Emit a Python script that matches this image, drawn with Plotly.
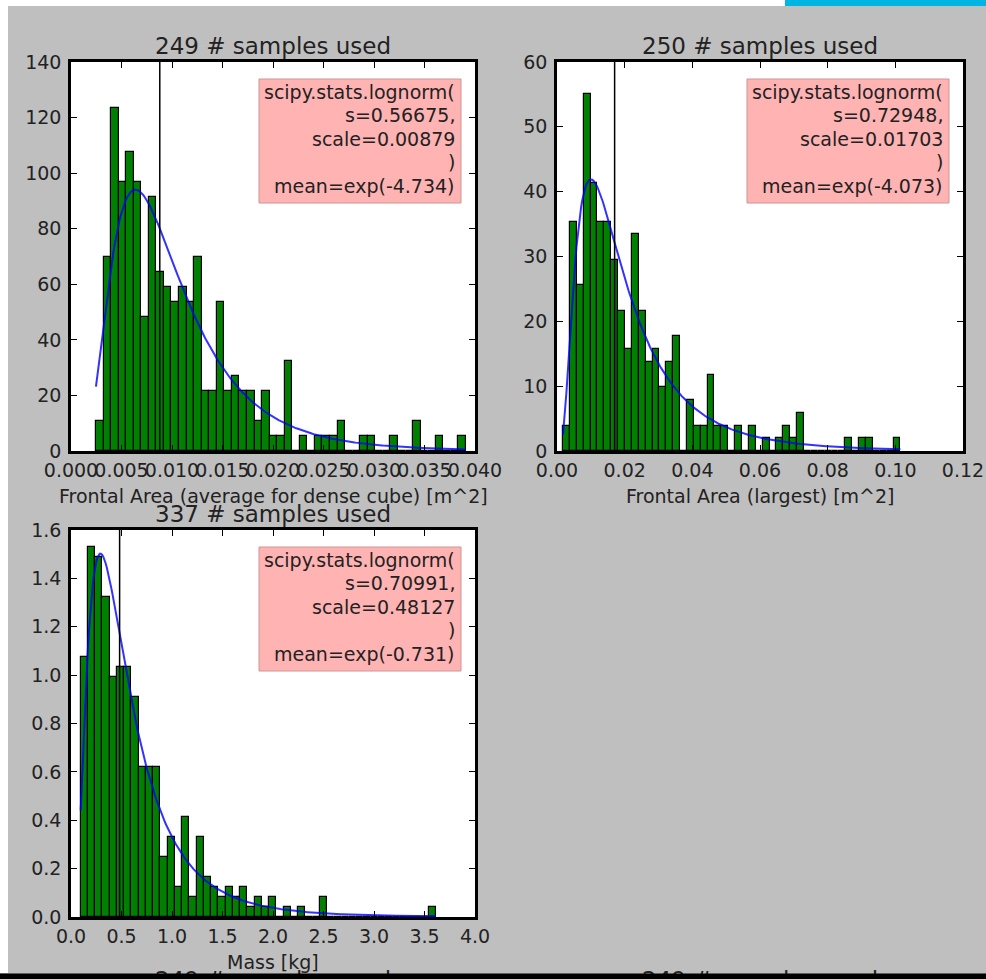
import numpy as np
import plotly.graph_objects as go

# ---------------- data ----------------
sample_counts = [249, 250, 337]
x_labels = ["Frontal Area (average for dense cube) [m^2]",
            "Frontal Area (largest) [m^2]",
            "Mass [kg]"]
fit_s = [0.56675, 0.72948, 0.70991]
fit_scale = [0.00879, 0.01703, 0.48127]
fit_mean_log = ["-4.734", "-4.073", "-0.731"]

# histogram bins (49 bins each), counts per bin
area_avg_range = [0.00247, 0.0391]
area_avg_counts = [2, 13, 23, 18, 20, 18, 9, 17, 12, 11, 10, 11, 10,
                   13, 4, 4, 10, 4, 5, 4, 4, 2, 4, 1, 1, 6,
                   0, 1, 0, 1, 1, 1, 2, 0, 0, 1, 1, 0, 0, 1, 0, 0, 2, 0, 0, 1, 0, 0, 1]

area_large_range = [0.00177, 0.1015]
area_large_counts = [2, 18, 13, 28, 21, 18, 18, 15, 11, 8, 17, 11, 7, 8, 5, 7, 9,
                     0, 4, 2, 2, 6, 2, 2, 0, 2, 0, 2, 0, 1, 0, 1, 2, 1, 3,
                     0, 0, 0, 0, 0, 0, 1, 0, 1, 1, 0, 0, 0, 1]

mass_range = [0.0957, 3.614]
mass_counts = [26, 37, 36, 32, 24, 25, 25, 22, 15, 15, 15,
               6, 8, 3, 10, 2, 8, 4, 3, 2, 3, 2, 3, 1, 2, 1, 2, 0, 1, 0, 1, 0, 0, 2,
               0, 0, 0, 0, 0, 0, 0, 0, 0, 0, 0, 0, 0, 0, 1]

# axis ticks
x_ticks = [[0.000, 0.005, 0.010, 0.015, 0.020, 0.025, 0.030, 0.035, 0.040],
           [0.00, 0.02, 0.04, 0.06, 0.08, 0.10, 0.12],
           [0.0, 0.5, 1.0, 1.5, 2.0, 2.5, 3.0, 3.5, 4.0]]
y_ticks = [[0, 20, 40, 60, 80, 100, 120, 140],
           [0, 10, 20, 30, 40, 50, 60],
           [0.0, 0.2, 0.4, 0.6, 0.8, 1.0, 1.2, 1.4, 1.6]]
x_fmt = [".3f", ".2f", ".1f"]
y_fmt = ["d", "d", ".1f"]

ranges = [area_avg_range, area_large_range, mass_range]
counts = [area_avg_counts, area_large_counts, mass_counts]

# ---------------- layout helpers ----------------
W, H = 986, 979
def px(x):
    return x / W
def py(y):
    return 1 - y / H

# axes boxes in pixels: (left, right, top, bottom)
boxes = [(71, 475, 62, 451), (557, 963, 62, 451), (71, 475, 530, 917)]
TXT = "#222222"
FONT = "DejaVu Sans"

fig = go.Figure()
annotations = []
shapes = []

for i in range(3):
    suffix = "" if i == 0 else str(i + 1)
    xa = "x" + suffix
    ya = "y" + suffix
    lo, hi = ranges[i]
    c = np.array(counts[i], dtype=float)
    nb = len(c)
    width = (hi - lo) / nb
    edges = lo + width * np.arange(nb + 1)
    centers = 0.5 * (edges[:-1] + edges[1:])
    density = c / (sample_counts[i] * width)

    fig.add_trace(go.Bar(x=centers, y=density, width=width, xaxis=xa, yaxis=ya,
                         marker=dict(color="#008000", line=dict(color="black", width=1.2)),
                         showlegend=False, hoverinfo="skip"))

    # fitted lognormal pdf with the parameters printed in the chart
    s = fit_s[i]
    sc = fit_scale[i]
    xs = np.linspace(lo, hi, 300)
    pdf = np.exp(-(np.log(xs / sc)) ** 2 / (2 * s * s)) / (xs * s * np.sqrt(2 * np.pi))
    fig.add_trace(go.Scatter(x=xs, y=pdf, mode="lines", xaxis=xa, yaxis=ya,
                             line=dict(color="rgba(0,0,255,0.8)", width=2),
                             showlegend=False, hoverinfo="skip"))

    # vertical line at the fitted scale (median)
    shapes.append(dict(type="line", xref=xa, yref=ya + " domain", x0=sc, x1=sc, y0=0, y1=1,
                       line=dict(color="black", width=1.5), layer="above"))

    l, r, t, b = boxes[i]
    axis_common = dict(showline=True, linecolor="black", linewidth=2.5, mirror="ticks",
                       ticks="inside", ticklen=6, tickwidth=1, tickcolor="black",
                       showgrid=False, zeroline=False, automargin=False,
                       tickfont=dict(family=FONT, size=19, color=TXT))
    fig.layout["xaxis" + suffix] = dict(domain=[px(l), px(r)], anchor=ya,
                                        range=[x_ticks[i][0], x_ticks[i][-1]],
                                        tickvals=x_ticks[i], tickformat=x_fmt[i], tickangle=0,
                                        ticklabelstandoff=0, **axis_common)
    fig.layout["yaxis" + suffix] = dict(domain=[py(b), py(t)], anchor=xa,
                                        range=[y_ticks[i][0], y_ticks[i][-1]],
                                        tickvals=y_ticks[i], tickformat=y_fmt[i],
                                        ticklabelstandoff=3, **axis_common)

    cx = 0.5 * (l + r)
    # title
    annotations.append(dict(text=f"{sample_counts[i]} # samples used", x=px(cx), y=py(t - 16),
                            xref="paper", yref="paper", xanchor="center", yanchor="middle",
                            showarrow=False, font=dict(family=FONT, size=23, color=TXT)))
    # x label
    annotations.append(dict(text=x_labels[i], x=px(cx), y=py(b + 45),
                            xref="paper", yref="paper", xanchor="center", yanchor="middle",
                            showarrow=False, font=dict(family=FONT, size=19, color=TXT)))

    # fit info box
    bx0, bx1 = r - 216, r - 14
    by0, by1 = t + 17, t + 141
    shapes.append(dict(type="rect", xref="paper", yref="paper",
                       x0=px(bx0), x1=px(bx1), y0=py(by1), y1=py(by0),
                       fillcolor="#FFB3B3", line=dict(color="rgb(205,150,150)", width=1),
                       layer="above"))
    lines = ["scipy.stats.lognorm(", f"s={s:.5f},", f"scale={sc:.5f}", ")",
             f"mean=exp({fit_mean_log[i]})"]
    for k, txt in enumerate(lines):
        annotations.append(dict(text=txt, x=px(bx1 - 4), y=py(t + 30 + 23.4 * k),
                                xref="paper", yref="paper", xanchor="right", yanchor="middle",
                                showarrow=False, font=dict(family=FONT, size=19, color=TXT)))

# titles of the next row, cut off by the bottom edge
for cx in (273, 760):
    annotations.append(dict(text=f"{sample_counts[0]} # samples used", x=px(cx), y=py(980),
                            xref="paper", yref="paper", xanchor="center", yanchor="middle",
                            showarrow=False, font=dict(family=FONT, size=23, color=TXT)))
# black strip at the bottom (drawn above the cut titles)
annotations.append(dict(text=" ", x=px(-5), y=py(973), xref="paper", yref="paper", xanchor="left",
                        yanchor="top", width=1000, height=14, bgcolor="black", borderpad=0,
                        showarrow=False, font=dict(size=4)))

# page decorations: white strips and cyan corner
shapes.append(dict(type="rect", xref="paper", yref="paper", x0=0, x1=px(785), y0=py(6), y1=1,
                   fillcolor="white", line=dict(width=0), layer="below"))
shapes.append(dict(type="rect", xref="paper", yref="paper", x0=px(785), x1=1, y0=py(6), y1=1,
                   fillcolor="#00B5E2", line=dict(width=0), layer="below"))
shapes.append(dict(type="rect", xref="paper", yref="paper", x0=0, x1=px(8), y0=py(973), y1=1,
                   fillcolor="white", line=dict(width=0), layer="below"))

fig.update_layout(width=W, height=H, margin=dict(l=0, r=0, t=0, b=0, autoexpand=False),
                  paper_bgcolor="#BFBFBF", plot_bgcolor="white",
                  bargap=0, barmode="overlay",
                  annotations=annotations, shapes=shapes,
                  font=dict(family=FONT, color=TXT))

fig.write_html("out.html")
